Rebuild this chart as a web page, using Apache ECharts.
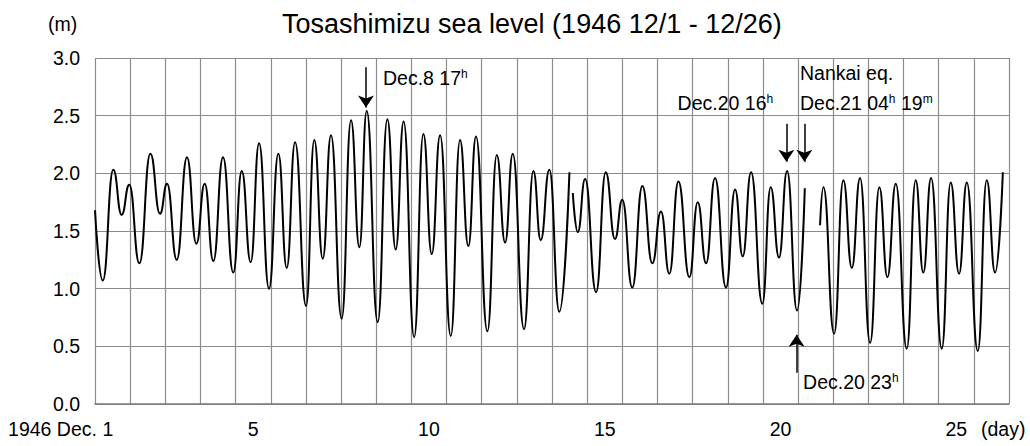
<!DOCTYPE html>
<html>
<head>
<meta charset="utf-8">
<script src="https://cdn.jsdelivr.net/npm/echarts@6/dist/echarts.min.js"></script>
<style>
  html, body { margin: 0; padding: 0; background: #fff; }
  #main { width: 1030px; height: 446px; }
</style>
</head>
<body>
<div id="main"></div>
<script>
var hours = [
  0, 5.3, 12.5, 18.2, 23.4, 30.3, 37.8, 44.4, 49.2, 55.8, 62.8, 69.2, 74.9, 80.8,
  87.4, 94.4, 100.2, 106.3, 112.0, 118.8, 125.2, 130.9, 136.6, 144.1, 149.7, 155.5,
  161.1, 168.4, 174.8, 180.5, 185.5, 193.0, 199.6, 205.3, 210.7, 217.9, 224.2, 229.9,
  235.6, 242.9, 249.2, 254.9, 260.1, 267.9, 274.3, 280.0, 285.2, 292.9, 299.3, 304.3,
  310.2, 317.0, 323.9, 325, 326.2, 329.6, 334.6, 342.1, 348.7, 355.0, 360.0, 366.8,
  373.7, 380.5, 386.4, 392.1, 398.3, 405.8, 411.5, 417.2, 423.3, 430.8, 437.0, 442.2,
  447.9, 455.6, 461.3, 467.0, 472.5, 479.3, 484.6, 490, 495.0, 497.3, 504.6, 510.9,
  516.7, 522.3, 529.2, 535.5, 541.0, 546.7, 554.2, 560.3, 565.5, 570.8, 578.1, 584.2,
  589.9, 595.2, 602.7, 608.8, 614.5, 619.8
];
// sea level (m); null = no record
var levels = [
  1.68, 1.07, 2.03, 1.64, 1.90, 1.22, 2.17, 1.65, 1.91, 1.25, 2.14, 1.39, 1.91, 1.24,
  2.14, 1.14, 2.02, 1.23, 2.26, 1.00, 2.17, 1.18, 2.27, 0.85, 2.29, 1.26,
  2.33, 0.74, 2.46, 1.36, 2.54, 0.71, 2.47, 1.34, 2.45, 0.58, 2.34, 1.30,
  2.33, 0.59, 2.29, 1.37, 2.32, 0.63, 2.16, 1.40, 2.17, 0.65, 2.02, 1.42,
  2.03, 0.80, 2.01, null, 1.83, 1.49, 1.95, 0.97, 2.01, 1.43, 1.77, 1.01,
  1.89, 1.22, 1.67, 1.13, 1.93, 1.10, 1.75, 1.22, 1.96, 1.01, 1.86, 1.28,
  2.01, 0.87, 1.88, 1.27, 2.02, 0.81, 1.87, null, 1.55, 1.88, 0.61, 1.94,
  1.18, 1.96, 0.53, 1.88, 1.10, 1.91, 0.48, 1.94, 1.14, 1.96, 0.48, 1.92,
  1.13, 1.92, 0.46, 1.94, 1.14, 2.01
];
var dayLabels = ['1946 Dec. 1', '', '', '', '5', '', '', '', '', '10', '', '', '', '',
  '15', '', '', '', '', '20', '', '', '', '', '25', ''];

// arrows: [hour, from level, to level]
var arrows = [
  [185, 2.92, 2.57],   // Dec.8 17h
  [472, 2.43, 2.10],   // Dec.20 16h
  [484.3, 2.43, 2.10], // Nankai eq. Dec.21 04h19m
  [479, 0.27, 0.60]    // Dec.20 23h
];
// note texts: [hour, level, text, side]
var notes = [
  [196.6, 2.83, 'Dec.8 17{s|h}', 'right'],
  [481.3, 2.87, 'Nankai eq.', 'right'],
  [481.3, 2.61, 'Dec.21 04{s|h} 19{s|m}', 'right'],
  [463.0, 2.61, 'Dec.20 16{s|h}', 'left'],
  [483.4, 0.19, 'Dec.20 23{s|h}', 'right']
];

var FONT = "'Liberation Sans', Arial, sans-serif";
var FS = 19.5;

var lineData = hours.map(function (h, i) { return [h, levels[i]]; });

var chart = echarts.init(document.getElementById('main'), null, { renderer: 'svg' });
chart.setOption({
  animation: false,
  backgroundColor: '#fff',
  textStyle: { fontFamily: FONT, color: '#000' },
  title: {
    text: 'Tosashimizu sea level (1946 12/1 - 12/26)',
    left: 277,
    top: 5,
    textStyle: { fontFamily: FONT, fontSize: 27, fontWeight: 'normal', color: '#000' }
  },
  graphic: [
    { type: 'text', left: 48, top: 14, style: { text: '(m)', font: FS + 'px ' + FONT, fill: '#000' } },
    { type: 'text', left: 981, top: 419, style: { text: '(day)', font: FS + 'px ' + FONT, fill: '#000' } }
  ],
  grid: { left: 95, right: 21, top: 58, bottom: 42 },
  xAxis: [
    {
      type: 'value',
      min: 0,
      max: 624,
      interval: 24,
      axisLine: { show: true, lineStyle: { color: '#7a7a7a', width: 1.5 } },
      axisTick: { show: false },
      axisLabel: { show: false },
      splitLine: { show: true, lineStyle: { color: '#8c8c8c', width: 1.2 } }
    },
    {
      type: 'category',
      data: dayLabels,
      boundaryGap: true,
      position: 'bottom',
      axisLine: { show: false },
      axisTick: { show: false },
      splitLine: { show: false },
      axisLabel: {
        interval: 0,
        margin: 15,
        fontSize: FS,
        color: '#000',
        fontFamily: FONT,
        formatter: function (v, i) { return i === 0 ? '{a|' + v + '}' : v; },
        rich: { a: { width: 209, align: 'left', fontSize: FS, fontFamily: FONT, color: '#000' } }
      }
    }
  ],
  yAxis: {
    type: 'value',
    min: 0,
    max: 3,
    interval: 0.5,
    axisLine: { show: false },
    axisTick: { show: false },
    axisLabel: {
      margin: 15,
      fontSize: FS,
      color: '#000',
      fontFamily: FONT,
      formatter: function (v) { return v.toFixed(1); }
    },
    splitLine: { show: true, lineStyle: { color: '#8c8c8c', width: 1.2 } }
  },
  series: [
    {
      type: 'line',
      xAxisIndex: 0,
      data: lineData,
      showSymbol: false,
      smooth: 0.5,
      smoothMonotone: 'x',
      connectNulls: false,
      lineStyle: { color: '#000', width: 2 },
      markLine: {
        silent: true,
        symbol: ['none', 'arrow'],
        symbolSize: 12,
        label: { show: false },
        lineStyle: { color: '#000', width: 1.5, type: 'solid' },
        data: arrows.map(function (a) {
          return [{ coord: [a[0], a[1]] }, { coord: [a[0], a[2]] }];
        })
      },
      markPoint: {
        silent: true,
        symbol: 'circle',
        symbolSize: 0,
        data: notes.map(function (n) {
          return {
            coord: [n[0], n[1]],
            label: {
              show: true,
              position: n[3],
              distance: 0,
              formatter: n[2],
              fontSize: FS,
              fontFamily: FONT,
              color: '#000',
              rich: {
                s: { fontSize: 12, fontFamily: FONT, color: '#000', verticalAlign: 'top', lineHeight: 13 }
              }
            }
          };
        })
      }
    }
  ]
});
</script>
</body>
</html>
